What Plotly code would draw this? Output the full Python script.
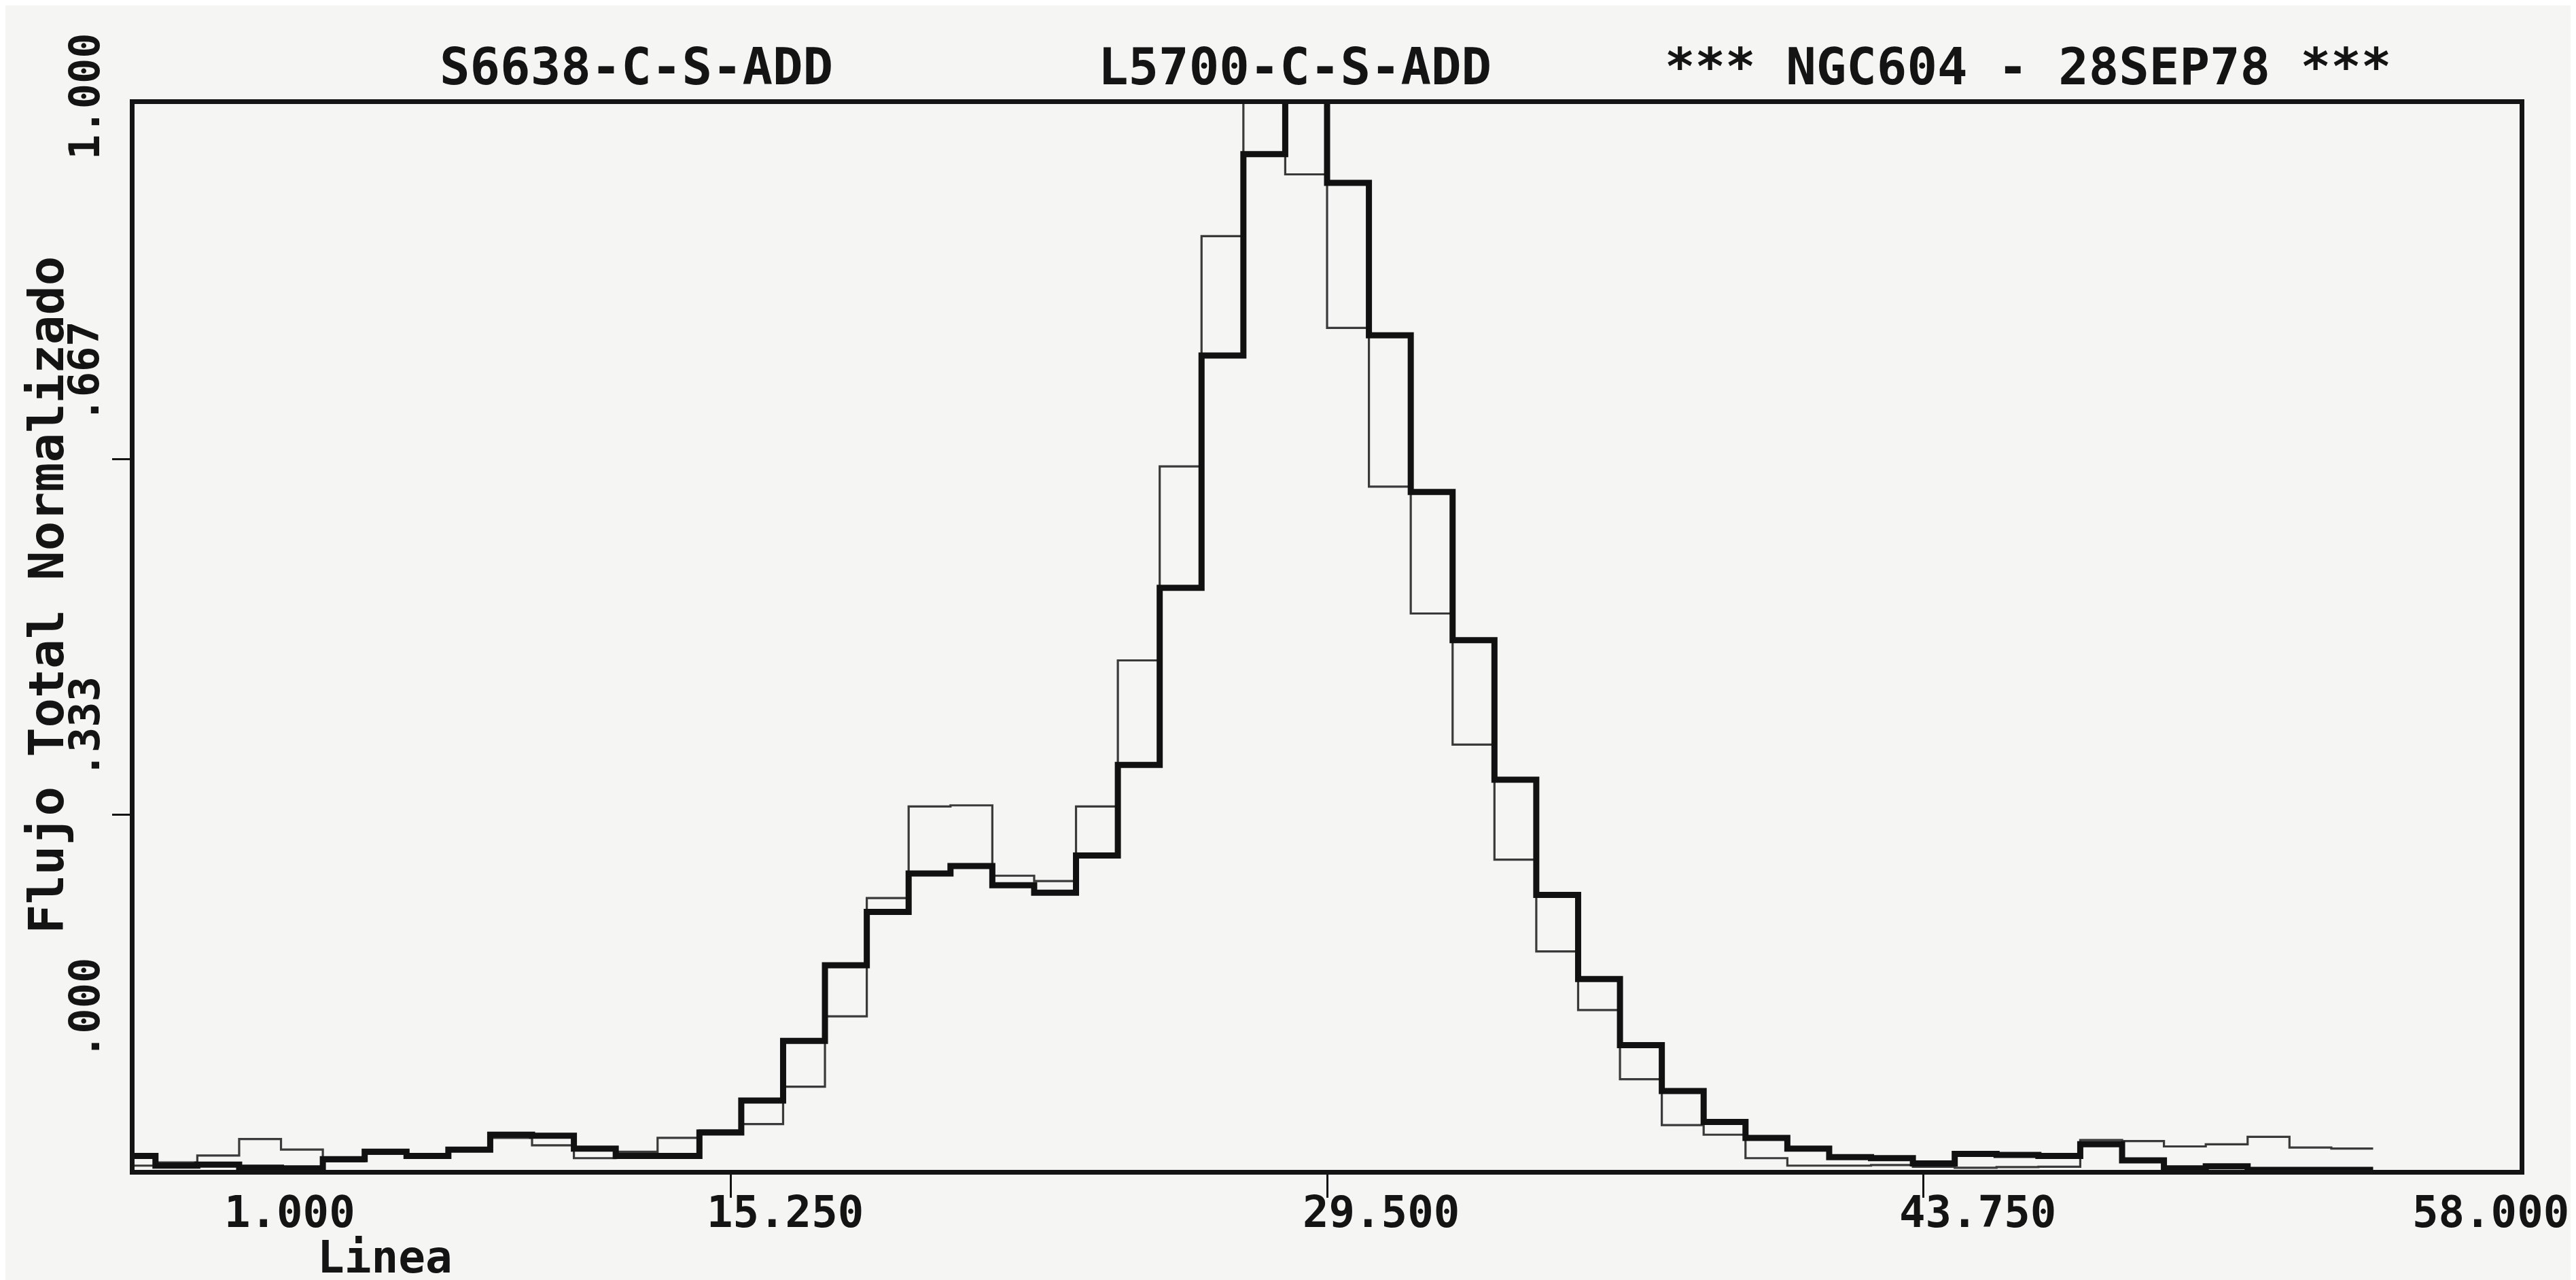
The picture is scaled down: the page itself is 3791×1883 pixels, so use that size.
import plotly.graph_objects as go

# ---- data ----
lineas = list(range(1, 55))  # bin centres (Linea), bins are 1 unit wide

flujo_s6638 = [
    0.013, 0.004, 0.005, 0.002, 0.0015, 0.010, 0.017, 0.013, 0.019, 0.033,
    0.032, 0.020, 0.013, 0.013, 0.035, 0.065, 0.121, 0.192, 0.242, 0.278,
    0.285, 0.267, 0.260, 0.295, 0.380, 0.546, 0.764, 0.953, 1.080, 0.926,
    0.783, 0.636, 0.497, 0.366, 0.258, 0.179, 0.117, 0.074, 0.045, 0.030,
    0.020, 0.012, 0.011, 0.006, 0.015, 0.014, 0.013, 0.024, 0.009, 0.0015,
    0.0034, 0.0, 0.0, 0.0,
]

flujo_l5700 = [
    0.004, 0.007, 0.0135, 0.029, 0.019, 0.008, 0.015, 0.012, 0.018, 0.030,
    0.023, 0.011, 0.017, 0.030, 0.037, 0.043, 0.078, 0.144, 0.255, 0.341,
    0.342, 0.276, 0.271, 0.341, 0.478, 0.660, 0.876, 1.060, 0.934, 0.790,
    0.641, 0.522, 0.399, 0.291, 0.205, 0.150, 0.085, 0.042, 0.033, 0.011,
    0.004, 0.004, 0.0045, 0.003, 0.002, 0.0026, 0.003, 0.028, 0.027, 0.022,
    0.024, 0.031, 0.021, 0.020,
]

x_tick_vals = [1.0, 15.25, 29.5, 43.75, 58.0]
x_tick_text = ["1.000", "15.250", "29.500", "43.750", "58.000"]
y_tick_vals = [0.0, 1 / 3, 2 / 3, 1.0]
y_tick_text = [".000", ".333", ".667", "1.000"]

titles = ["S6638-C-S-ADD", "L5700-C-S-ADD", "*** NGC604 - 28SEP78 ***"]
x_title = "Linea"
y_title = "Flujo Total Normalizado"

X_MIN, X_MAX = x_tick_vals[0], x_tick_vals[-1]


def step_xy(centres, values):
    """Histogram outline: bin edges at centre +/- 0.5, clipped to the axis start."""
    xs = [max(c - 0.5, X_MIN) for c in centres] + [centres[-1] + 0.5]
    ys = list(values) + [values[-1]]
    return xs, ys


FONT = "DejaVu Sans Mono"
INK = "#141414"


def tfont(size):
    return dict(family=FONT, size=size, color=INK, weight="bold")


fig = go.Figure()

xs, ys = step_xy(lineas, flujo_l5700)
fig.add_trace(go.Scatter(x=xs, y=ys, mode="lines", line_shape="hv",
                         line=dict(color="#3a3a3a", width=3.2),
                         name=titles[1], showlegend=False, hoverinfo="skip"))

xs, ys = step_xy(lineas, flujo_s6638)
fig.add_trace(go.Scatter(x=xs, y=ys, mode="lines", line_shape="hv",
                         line=dict(color="#111111", width=9),
                         name=titles[0], showlegend=False, hoverinfo="skip"))

annotations = []

# x tick labels (plotter style: first pushed inward, last right-aligned)
n = len(x_tick_vals)
for i, (v, t) in enumerate(zip(x_tick_vals, x_tick_text)):
    if i == 0:
        xa, xs_ = "left", 130
    elif i == n - 1:
        xa, xs_ = "right", 75
    else:
        xa, xs_ = "left", -38
    annotations.append(dict(x=v, xref="x", y=0, yref="paper", text=t,
                            showarrow=False, xanchor=xa, yanchor="middle",
                            xshift=xs_, yshift=-62, font=tfont(64)))

# y tick labels (rotated)
m = len(y_tick_vals)
for i, (v, t) in enumerate(zip(y_tick_vals, y_tick_text)):
    if i == 0:
        ysh = 237
    elif i == m - 1:
        ysh = 11
    else:
        ysh = 128
    annotations.append(dict(x=0, xref="paper", y=v, yref="y", text=t,
                            showarrow=False, textangle=-90,
                            xanchor="center", yanchor="middle",
                            xshift=-74, yshift=ysh, font=tfont(62)))

# axis titles
annotations.append(dict(x=0, xref="paper", y=0.539, yref="paper", text=y_title,
                        showarrow=False, textangle=-90, xanchor="center",
                        yanchor="middle", xshift=-130, font=tfont(72)))
annotations.append(dict(x=0.105, xref="paper", y=0, yref="paper", text=x_title,
                        showarrow=False, xanchor="center", yanchor="middle",
                        yshift=-128, font=tfont(66)))

# header labels
for t, px in zip(titles, [0.2103, 0.4866, 0.794]):
    annotations.append(dict(x=px, xref="paper", y=1, yref="paper", text=t,
                            showarrow=False, xanchor="center", yanchor="middle",
                            yshift=55, font=tfont(74)))

fig.update_layout(
    width=3791, height=1883,
    margin=dict(l=190, r=91, t=145, b=170),
    paper_bgcolor="#f5f5f4", plot_bgcolor="#f5f5f4",
    showlegend=False,
    annotations=annotations,
    xaxis=dict(range=[X_MIN, X_MAX], showgrid=False, zeroline=False,
               showline=True, linewidth=7, linecolor=INK, mirror=True,
               tickmode="array", tickvals=x_tick_vals[1:-1],
               ticks="outside", ticklen=34, tickwidth=3, tickcolor=INK,
               showticklabels=False),
    yaxis=dict(range=[0, 1], showgrid=False, zeroline=False,
               showline=True, linewidth=7, linecolor=INK, mirror=True,
               tickmode="array", tickvals=y_tick_vals[1:-1],
               ticks="outside", ticklen=26, tickwidth=3, tickcolor=INK,
               showticklabels=False),
)

fig.write_html("out.html")
